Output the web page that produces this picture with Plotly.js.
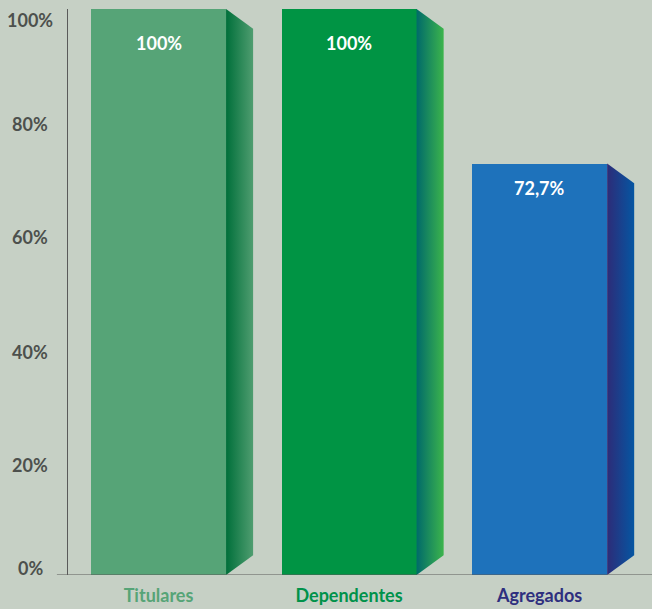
<!DOCTYPE html>
<html>
<head>
<meta charset="utf-8">
<script src="https://cdn.plot.ly/plotly-3.0.1.min.js"></script>
<style>html,body{margin:0;padding:0;background:#c6d0c5;}#chart{width:652px;height:609px;}</style>
</head>
<body>
<div id="chart"></div>
<script>
// ---- data ----
const categories = ['Titulares', 'Dependentes', 'Agregados'];
const values = [100, 100, 72.7];
const valueLabels = ['100%', '100%', '72,7%'];
const yTickVals = [0, 20, 40, 60, 80, 100];
const yTickText = ['0%', '20%', '40%', '60%', '80%', '100%'];

// ---- styles ----
const frontColors = ['#56a477', '#009444', '#1e72bb'];
const sideScales = [
  [[0, '#006f3a'], [1, '#4f9d70']],
  [[0, '#006a6a'], [1, '#3cb44c']],
  [[0, '#2d2c78'], [1, '#0556a2']]
];
const labelColors = ['#56a477', '#00924a', '#2e2f7e'];
const yLabelShift = [7, -3, -3, -2, -2, -11];
const barWidth = 0.709;
const depth = 0.142;
const slant = 3.5;
const FONT = 'Lato, "Open Sans", sans-serif';

const idx = categories.map((c, i) => i);
const traces = [{
  type: 'bar',
  x: idx,
  y: values,
  width: barWidth,
  marker: {color: frontColors, line: {width: 0}},
  hoverinfo: 'skip',
  showlegend: false
}];
values.forEach((v, i) => {
  const xr = i + barWidth / 2;
  traces.push({
    type: 'scatter',
    mode: 'lines',
    x: [xr, xr + depth, xr + depth, xr, xr],
    y: [v, v - slant, slant, 0, v],
    fill: 'toself',
    fillgradient: {type: 'horizontal', colorscale: sideScales[i]},
    line: {width: 0},
    hoverinfo: 'skip',
    showlegend: false
  });
});

const annotations = values.map((v, i) => ({
  x: i, y: v, xref: 'x', yref: 'y',
  text: '<b>' + valueLabels[i] + '</b>',
  showarrow: false,
  yanchor: 'middle',
  yshift: i === 2 ? -24 : -34,
  font: {family: FONT, size: 18, color: '#ffffff'}
}));
yTickVals.forEach((t, i) => {
  annotations.push({
    x: 0, y: t, xref: 'paper', yref: 'y',
    text: '<b>' + yTickText[i] + '</b>',
    showarrow: false,
    xanchor: 'center', yanchor: 'middle',
    xshift: -38, yshift: yLabelShift[i],
    font: {family: FONT, size: 18, color: '#4d504d'}
  });
});

const layout = {
  width: 652, height: 609,
  margin: {l: 68, r: 0, t: 9, b: 34},
  paper_bgcolor: '#c6d0c5',
  plot_bgcolor: '#c6d0c5',
  xaxis: {
    range: [-0.475, 2.59],
    tickvals: idx,
    ticktext: categories.map((c, i) => '<b><span style="color:' + labelColors[i] + '">' + c + '</span></b>'),
    showgrid: false, zeroline: false, showline: false,
    ticks: '', ticklabelstandoff: 8,
    tickfont: {family: FONT, size: 18}
  },
  yaxis: {
    range: [0, 100],
    showticklabels: false,
    showgrid: false, zeroline: false,
    showline: true, linecolor: '#5a5a5a', linewidth: 1,
    ticks: ''
  },
  shapes: [{
    type: 'line', xref: 'paper', yref: 'y',
    x0: -0.019, x1: 1, y0: 0, y1: 0,
    line: {color: '#5a5a5a', width: 1.2}
  }],
  annotations: annotations,
  bargap: 0
};

Plotly.newPlot('chart', traces, layout, {displayModeBar: false, staticPlot: true});
</script>
</body>
</html>
